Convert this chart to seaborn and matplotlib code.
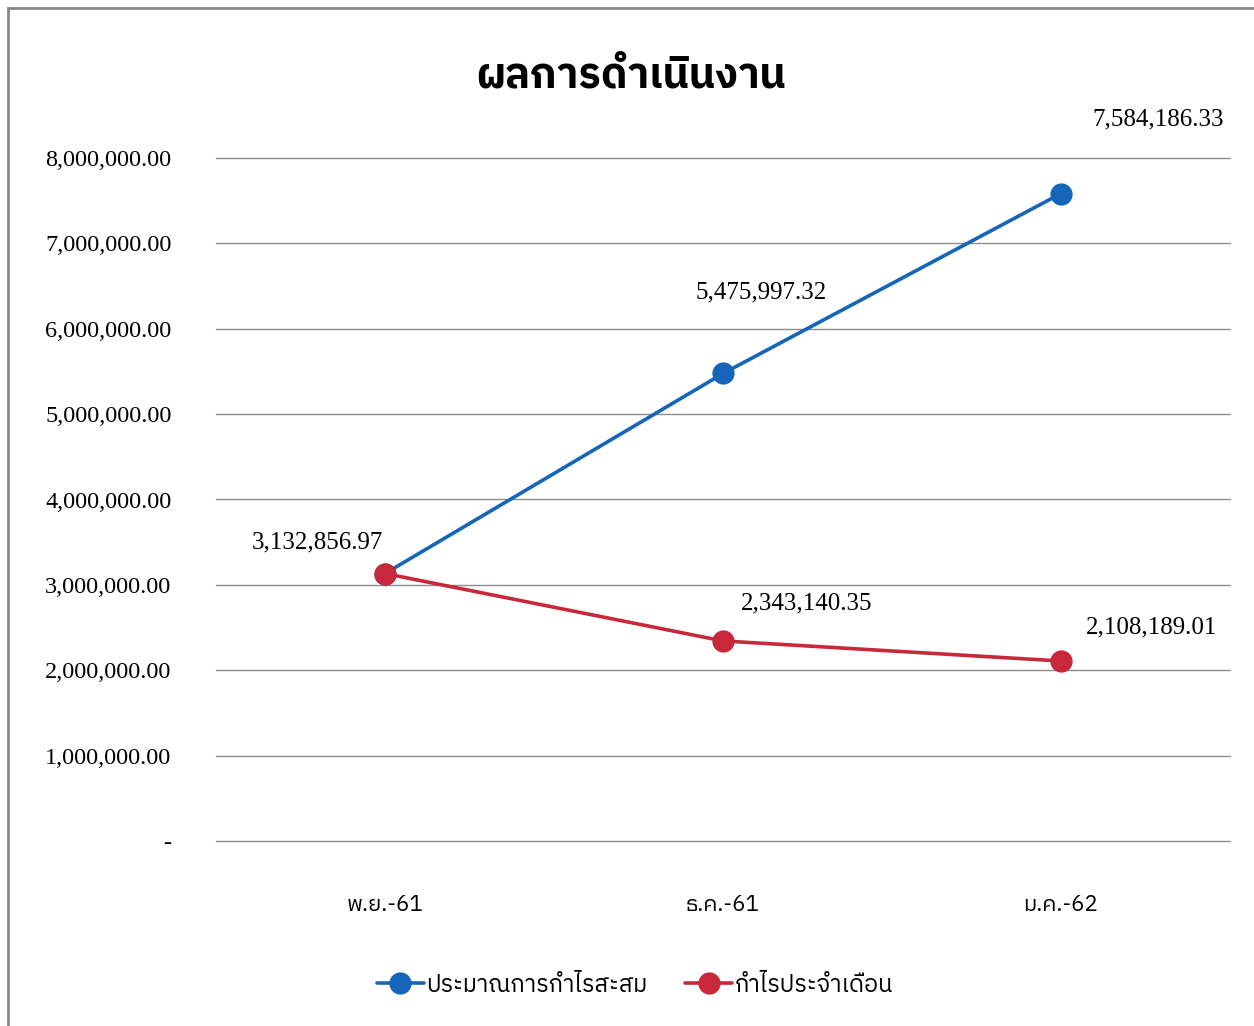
import matplotlib
matplotlib.use("Agg")
import matplotlib.pyplot as plt
import matplotlib.font_manager as fm
from matplotlib.ft2font import FT2Font
from matplotlib.patches import Rectangle
import seaborn as sns
import pandas as pd

# ---------------- data ----------------
months = ["พ.ย.-61", "ธ.ค.-61", "ม.ค.-62"]
cumulative = [3132856.97, 5475997.32, 7584186.33]
monthly = [3132856.97, 2343140.35, 2108189.01]
series_names = ["ประมาณการกำไรสะสม", "กำไรประจำเดือน"]
title = "ผลการดำเนินงาน"
yticks = [0, 1000000, 2000000, 3000000, 4000000, 5000000, 6000000, 7000000, 8000000]

# ---------------- fonts ----------------
def find_thai_font():
    pref = []
    other = []
    for path in fm.findSystemFonts():
        try:
            f = FT2Font(path)
            cm = f.get_charmap()
        except Exception:
            continue
        if 0x0E01 in cm and 0x0E33 in cm:
            name = fm.FontProperties(fname=path).get_name()
            if "Thai" in name or "Loma" in name or "Garuda" in name:
                pref.append(name)
            else:
                other.append(name)
    c = pref + other
    return c[0] if c else None

thai = find_thai_font()

sns.set_theme(style="white")
fam = ["Liberation Serif", "DejaVu Serif"]
if thai:
    fam = ["Liberation Serif", thai, "DejaVu Sans"]
plt.rcParams["font.family"] = fam
plt.rcParams["text.color"] = "black"
plt.rcParams["xtick.color"] = "black"
plt.rcParams["ytick.color"] = "black"
thai_fam = [thai, "Liberation Serif", "DejaVu Sans"] if thai else fam

BLUE = "#1565B8"
RED = "#C8283A"

df = pd.DataFrame({
    "month": months * 2,
    "value": cumulative + monthly,
    "series": [series_names[0]] * 3 + [series_names[1]] * 3,
})

fig = plt.figure(figsize=(12.54, 10.26), dpi=100)
ax = fig.add_axes([216 / 1254, 185 / 1026, 1014 / 1254, 683 / 1026])

sns.lineplot(data=df, x="month", y="value", hue="series",
             palette=[BLUE, RED], marker="o", markersize=16,
             markeredgewidth=0, linewidth=2.6, sort=False, ax=ax, legend=True)

ax.set_xlim(-0.5, 2.5)
ax.set_ylim(0, 8000000)
ax.set_yticks(yticks)
ax.set_yticklabels([f"{v:,.2f}" if v else "-" for v in yticks], fontsize=17.5,
                   family=["Liberation Serif"], color="black")
ax.set_xticks(range(len(months)))
ax.set_xticklabels(months, fontsize=16, family=thai_fam, color="black")
ax.tick_params(axis="y", length=0, pad=32)
ax.tick_params(axis="x", length=0, pad=38)
ax.set_xlabel("")
ax.set_ylabel("")
ax.grid(axis="y", color="#8c8c8c", linewidth=1.0)
ax.grid(axis="x", visible=False)
for gl in ax.yaxis.get_gridlines():
    gl.set_clip_on(False)
for s in ax.spines.values():
    s.set_visible(False)

# data labels
labels = [
    (0, cumulative[0], (-68, 31)),
    (1, cumulative[1], (38, 81)),
    (2, cumulative[2], (97, 74)),
    (1, monthly[1], (84, 38)),
    (2, monthly[2], (91, 34)),
]
for xi, yv, off in labels:
    ax.annotate(f"{yv:,.2f}", (xi, yv), xytext=off, textcoords="offset pixels",
                ha="center", va="center", fontsize=18, color="black",
                family=["Liberation Serif"], annotation_clip=False)

# title
fig.text(631 / 1254, 1 - 76 / 1026, title, ha="center", va="center",
         fontsize=30, fontweight="bold", family=thai_fam, color="black")

# legend
handles, lbls = ax.get_legend_handles_labels()
leg = ax.legend(handles, lbls, loc="center", bbox_to_anchor=(635 / 1254, 1 - 985 / 1026),
                bbox_transform=fig.transFigure, ncol=2, frameon=False,
                prop=fm.FontProperties(family=thai_fam, size=17),
                handlelength=2.0, handletextpad=0.1, columnspacing=1.6, markerscale=1.0)
for t in leg.get_texts():
    t.set_color("black")

# figure border
fig.patches.append(Rectangle((8 / 1254, -0.05), 1.2, 1 - 8 / 1026 + 0.05,
                             transform=fig.transFigure, fill=False,
                             edgecolor="#888888", linewidth=2))

fig.savefig("out.png", dpi=100)
